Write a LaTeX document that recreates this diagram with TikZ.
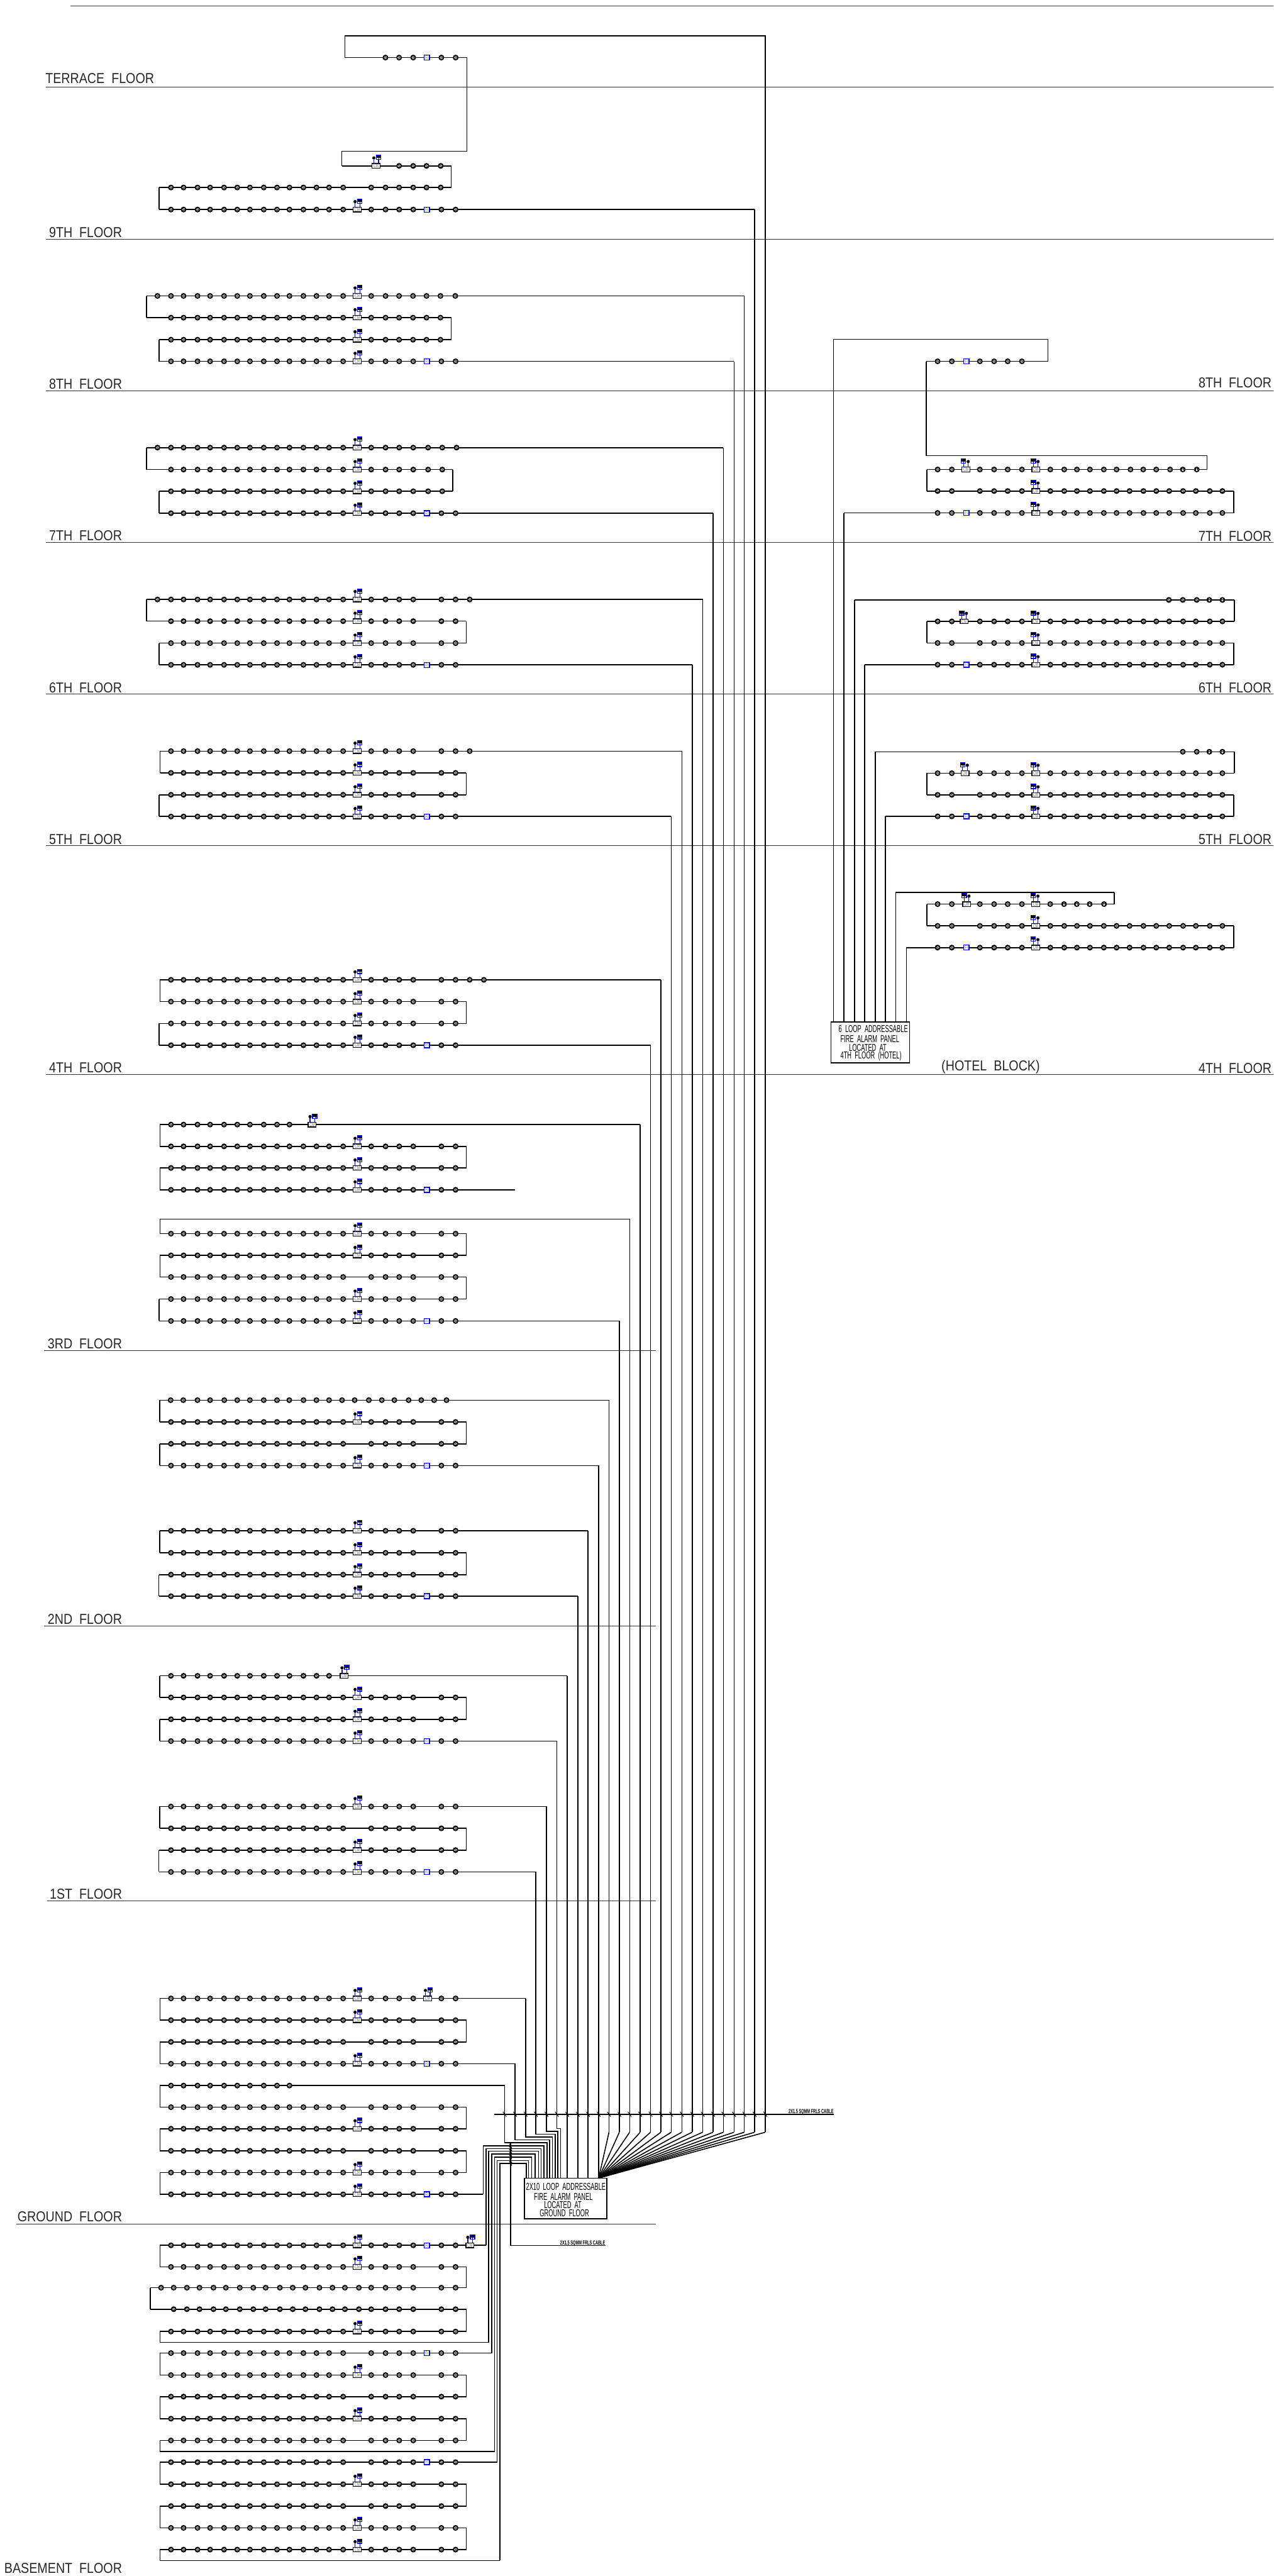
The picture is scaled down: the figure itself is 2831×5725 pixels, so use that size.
\documentclass[tikz,border=0pt]{standalone}
\usepackage{fontspec}
\setmainfont{Liberation Sans}
\newfontfamily\cadL[FakeStretch=0.86,WordSpace=2]{Liberation Sans}
\newfontfamily\cadP[FakeStretch=0.58,WordSpace=2]{Liberation Sans}
\newfontfamily\cadS[FakeStretch=0.6]{Liberation Sans}
\tikzset{
  wire/.style={line width=.55pt,black},
  flr/.style={line width=.28pt,black!80},
  feed/.style={line width=.4pt,blue},
  tickm/.style={line width=.35pt,black},
  smk/.style={circle,draw=black,fill=white,line width=.65pt,minimum size=2.5pt,inner sep=0pt,outer sep=0pt,font=\fontsize{2.4}{2.4}\selectfont\bfseries},
  cmbox/.style={rectangle,draw=black,fill=white,line width=.45pt,minimum width=4.4pt,minimum height=2.6pt,inner sep=0pt,outer sep=0pt,text=black!55,font=\cadS\fontsize{3}{3}\selectfont},
  fibox/.style={rectangle,draw=blue,fill=white,line width=.45pt,minimum width=3pt,minimum height=2.8pt,inner sep=0pt,outer sep=0pt,text=black!55,font=\cadS\fontsize{3}{3}\selectfont},
  bdot/.style={circle,fill=black,minimum size=1.8pt,inner sep=0pt,outer sep=0pt},
  icobox/.style={rectangle,draw=blue,fill=white,line width=.45pt,minimum width=2.5pt,minimum height=2.4pt,inner sep=0pt,outer sep=0pt,
    path picture={\fill[black] (path picture bounding box.north west) rectangle ([yshift=.9pt]path picture bounding box.south east);
      \fill[black] ([yshift=-.0pt]path picture bounding box.south) rectangle ([xshift=.2pt,yshift=.9pt]path picture bounding box.south);}},
  flab/.style={font=\cadL\fontsize{8}{8}\selectfont,inner sep=0pt,anchor=base east,black!85},
  ptxt/.style={font=\cadP\fontsize{5.6}{5.6}\selectfont,inner sep=0pt},
  cab/.style={font=\cadS\bfseries\fontsize{3.3}{3.3}\selectfont,inner sep=0pt,anchor=base east},
  panelbox/.style={rectangle,draw=black,fill=white,line width=.55pt,inner sep=0pt,outer sep=0pt},
}
\def\LL{380,408,439,467,498,527.3,555.5,586.3,615.7,643.4,674.4,703.5,731.4,762.7}
\def\LX{380,408,439,467,498,527.3,555.5,586.3,615.7,643.4}
\def\LT{380,408,439,467,498,527.3,555.5,586.3,615.7,643.4,674.4,703.5,731.4}
\def\RF{825,857,887.3,918.5}
\def\RT{981,1012.6}
\def\LB{386,415.4,443.5,474.5,502,533,563,590.5,622,650.7,678.9,710,739,766.7,797.7}
\def\HL{2084,2115.6}
\def\HM{2178,2209.6,2239.8,2271.4}
\def\HR{2334.5,2365.4,2393.7,2422.6,2453.5,2481.8,2510.7,2541.6,2570,2598.8,2629.7,2658,2689,2717}
\newcommand\wirerow[4]{%
  \coordinate (#1-L) at (#3,#2);
  \coordinate (#1-R) at (#4,#2);
  \draw[wire] (#1-L) -- (#1-R);}
\newcommand\srow[5]{%
  \wirerow{#1}{#2}{#3}{#4}
  \edef\tmplist{#5}%
  \foreach \x [count=\i] in \tmplist {\node[smk] (#1-s\i) at (\x,#2) {S};}}
\newcommand\HD[3]{\node[smk] (#1-h#2) at (#3,0 |- #1-L) {H};}
\newcommand\FIb[2]{\node[fibox] (#1-fi) at (#2,0 |- #1-L) {FI};}
% CM module with dot left and box right
\newcommand\CMi[3]{%
  \node[cmbox] (#1-cm#2) at (#3,0 |- #1-L) {CM};
  \node[bdot] (#1-d#2) at ([shift={(-4.7,-17.7)}]#1-cm#2.center) {};
  \node[icobox] (#1-b#2) at ([shift={(5.8,-18.7)}]#1-cm#2.center) {};
  \draw[feed] (#1-d#2) -- (#1-d#2 |- #1-cm#2.north);
  \draw[feed] (#1-b#2) -- (#1-b#2 |- #1-cm#2.north);}
% mirrored version used in the hotel block
\newcommand\CMr[3]{%
  \node[cmbox] (#1-cm#2) at (#3,0 |- #1-L) {CM};
  \node[bdot] (#1-d#2) at ([shift={(5,-17.7)}]#1-cm#2.center) {};
  \node[icobox] (#1-b#2) at ([shift={(-5.5,-18.7)}]#1-cm#2.center) {};
  \draw[feed] (#1-d#2) -- (#1-d#2 |- #1-cm#2.north);
  \draw[feed] (#1-b#2) -- (#1-b#2 |- #1-cm#2.north);}
\begin{document}
\begin{tikzpicture}[x=0.25pt,y=-0.25pt]
\useasboundingbox (0,0) rectangle (2831,5725);
% ---------- floor lines
\foreach \n/\xa/\xb/\y in {top/157/2831/13.7,ter/102/2831/193.7,f9/102/2831/531,f8/102/2831/867.9,f7/102/2831/1205.6,f6/102/2831/1542.6,f5/102/2831/1879.7,f4/102/2831/2387.9,f3/98/1457.5/3002,f2/98/1457.5/3613.3,f1/105/1457.5/4225,fg/37/1457.5/4942.3}{
  \coordinate (\n-a) at (\xa,\y);
  \coordinate (\n-b) at (\xb,\y);
  \draw[flr] (\n-a) -- (\n-b);
}
\foreach \n/\x/\y/\t in {lt/343.4/185/TERRACE FLOOR,l9/272/527/9TH FLOOR,l8/272/864/8TH FLOOR,l7/272/1202/7TH FLOOR,l6/272/1539/6TH FLOOR,l5/272/1876/5TH FLOOR,l4/272/2384/4TH FLOOR,l3/272/2998/3RD FLOOR,l2/272/3609/2ND FLOOR,l1/272/4221/1ST FLOOR,lg/272/4938/GROUND FLOOR,lb/272/5719/BASEMENT FLOOR,r8/2827/862/8TH FLOOR,r7/2827/1202.5/7TH FLOOR,r6/2827/1539/6TH FLOOR,r5/2827/1876/5TH FLOOR,r4/2827/2385/4TH FLOOR}{
  \node[flab] (\n) at (\x,\y) {\t};
}
\node[flab,anchor=base] (hb) at (2202,2380) {(HOTEL BLOCK)};
% ---------- panels
\node[panelbox,minimum width=45.9pt,minimum height=22.5pt] (G) at (1257.15,4885.7) {};
\node[ptxt] (G1) at (1257.8,4859.7) {2X10 LOOP ADDRESSABLE};
\node[ptxt] (G2) at (1252,4881.7) {FIRE ALARM PANEL};
\node[ptxt] (G3) at (1251,4900) {LOCATED AT};
\node[ptxt] (G4) at (1254.6,4918) {GROUND FLOOR};
\node[panelbox,minimum width=43.75pt,minimum height=22.6pt] (HP) at (1934.5,2316.85) {};
\node[ptxt] (H1t) at (1941,2286.7) {6 LOOP ADDRESSABLE};
\node[ptxt] (H2t) at (1933.5,2309.3) {FIRE ALARM PANEL};
\node[ptxt] (H3t) at (1928.8,2328.3) {LOCATED AT};
\node[ptxt] (H4t) at (1936,2346.7) {4TH FLOOR (HOTEL)};
% ---------- riser anchors
\coordinate (fan) at (1330.7,4840.7);
\foreach \k/\x in {10/1353.6,11/1376.6,12/1399.5,13/1423,14/1446,15/1469,16/1492,17/1515.5,18/1538.5,19/1562,20/1585,21/1608,22/1631.5,23/1654.4,24/1677.4,25/1701}{
  \coordinate (R\k) at (\x,4738.7);
  \draw[wire] (R\k) -- (fan);
}
\foreach \k/\x in {0/1121.7,1/1144.7,2/1168.2,3/1191.2,4/1214.7,5/1237.7,6/1260.6,7/1284.2,8/1307,9/1330.7,10/1353.6,11/1376.6,12/1399.5,13/1423,14/1446,15/1469,16/1492,17/1515.5,18/1538.5,19/1562,20/1585,21/1608,22/1631.5,23/1654.4,24/1677.4,25/1701}{
  \coordinate (T\k) at (\x,4698.7);
}
% ---------- terrace / 9th
\coordinate (tt-L) at (766.8,80);
\coordinate (tt-R) at (1701,80);
\srow{t1}{128}{766.8}{1038}{856.7,887,918.4,981,1012.8}
\FIb{t1}{948.5}
\srow{n0}{368.7}{759.7}{1003}{887,918.4,948,979.6}
\CMi{n0}{a}{835.7}
\srow{n1}{416.7}{353.6}{1003}{\LL,825,857,887,918.4,948,979.6}
\srow{n2}{465.7}{353.6}{1677.4}{\LL,\RF,\RT}
% ---------- 8th
\srow{e1}{657.7}{326}{1654.4}{350,\LL,825,857,887,918,948,979,1012}
\srow{e2}{706}{326}{1003}{\LL,825,857,887,918,948,979}
\srow{e3}{755}{353.6}{1003}{\LL,825,857,887,918,948,979}
\srow{e4}{803}{353.6}{1631.5}{\LL,\RF,\RT}
% ---------- 7th
\srow{s1}{994.8}{326}{1608}{350,\LL,\RF,951.5,983,1014.8}
\srow{s2}{1043.6}{326}{1006.6}{\LL,\RF,951.5,983}
\srow{s3}{1091.8}{353.6}{1006.6}{\LL,\RF,951.5,983}
\srow{s4}{1140.6}{353.6}{1585}{\LL,\RF,\RT}
% ---------- 6th
\srow{x1}{1332.3}{326}{1562}{350,\LL,\RF,\RT,1044}
\srow{x2}{1380.5}{326}{1036.2}{\LL,\RF,\RT}
\srow{x3}{1429.3}{353.6}{1036.2}{\LL,\RF,\RT}
\srow{x4}{1477.6}{353.6}{1538.5}{\LL,\RF,\RT}
% ---------- 5th
\srow{f1a}{1669.3}{356}{1515.5}{\LL,\RF,\RT,1044}
\srow{f2a}{1717.7}{356}{1036.2}{\LL,\RF,\RT}
\srow{f3a}{1766.3}{353.6}{1036.2}{\LL,\RF,\RT}
\srow{f4a}{1814.6}{353.6}{1492}{\LL,\RF,\RT}
% ---------- 4th
\srow{g1}{2177.6}{355.7}{1469}{\LL,\RF,\RT,1044,1075.5}
\srow{g2}{2226}{355.7}{1036.6}{\LL,\RF,\RT}
\srow{g3}{2274.5}{353.4}{1036.6}{\LL,\RF,\RT}
\srow{g4}{2323}{353.4}{1446}{\LL,\RF,\RT}
% ---------- below 4th
\srow{h1}{2499.3}{355.7}{1423}{\LX}
\CMi{h1}{a}{693.8}
\srow{h2}{2547.7}{355.7}{1036.6}{\LL,\RF,\RT}
\srow{h3}{2595.7}{355.7}{1036.6}{\LL,\RF,\RT}
\srow{h4}{2644.3}{355.7}{1145}{\LL,\RF,\RT}
\wirerow{i0}{2709.3}{355.7}{1399.5}
\srow{i1}{2741.7}{355.7}{1036.6}{\LL,\RF,\RT}
\srow{i2}{2790}{355.7}{1036.6}{\LL,\RF,\RT}
\srow{i3}{2838}{355.7}{1036.6}{\LL,\RF,\RT}
\srow{i4}{2887}{353.6}{1036.6}{\LL,\RF,\RT}
\srow{i5}{2935.7}{353.6}{1376.6}{\LL,\RF,\RT}
% ---------- 3rd-2nd
\srow{j1}{3111.7}{354.7}{1353.6}{379.3,407.3,438.9,467,498.5,527.3,555.4,586.2,615.7,643,674.6,703.4,731.4,760.2,788.3,819.8,848.6,876.6,908.2,936.3,965,992.4}
\srow{j2}{3160.2}{354.7}{1036.6}{\LL,\RF,\RT}
\srow{j3}{3208.7}{354.7}{1036.6}{\LL,\RF,\RT}
\srow{j4}{3257.1}{354.7}{1330.7}{\LL,\RF,\RT}
\srow{m1}{3402}{354.7}{1307}{\LL,\RF,\RT}
\srow{m2}{3451}{354.7}{1036.6}{\LL,\RF,\RT}
\srow{m3}{3499.5}{353}{1036.6}{\LL,\RF,\RT}
\srow{m4}{3547.4}{353}{1284.2}{\LL,\RF,\RT}
% ---------- 2nd-1st
\srow{p1}{3724.4}{354.7}{1260.6}{\LT}
\CMi{p1}{a}{765}
\srow{p2}{3772.4}{354.7}{1036.6}{\LL,\RF,\RT}
\srow{p3}{3821}{354.7}{1036.6}{\LL,\RF,\RT}
\srow{p4}{3869.4}{354.7}{1237.7}{\LL,\RF,\RT}
\srow{q1}{4014.8}{354.7}{1214.7}{\LL,\RF,\RT}
\srow{q2}{4063.3}{354.7}{1036.6}{\LL,\RF,\RT}
\srow{q3}{4111.7}{353}{1036.6}{\LL,\RF,\RT}
\srow{q4}{4160.2}{353}{1191.2}{\LL,\RF,\RT}
% ---------- ground
\srow{a1}{4441.3}{355.7}{1168.2}{\LL,\RF,\RT}
\CMi{a1}{b}{950.3}
\srow{a2}{4489.7}{355.7}{1036.5}{\LL,\RF,\RT}
\srow{a3}{4538}{355.7}{1036.5}{\LL,\RF,\RT}
\srow{a4}{4586.4}{355.7}{1144.7}{\LL,\RF,\RT}
\srow{a5}{4635}{355.7}{1121.7}{\LX}
\srow{a6}{4683}{355.7}{1036.5}{\LL,\RF,\RT}
\srow{a7}{4731}{355.7}{1036.5}{\LL,\RF,\RT}
\srow{a8}{4780}{355.7}{1036.5}{\LL,\RF,\RT}
\srow{a9}{4828.3}{355.7}{1036.5}{\LL,\RF,\RT}
\srow{a10}{4876.7}{355.7}{1074}{\LL,\RF,\RT}
% ---------- basement
\srow{b1}{4990}{355.7}{1080.4}{\LL,\RF,\RT}
\CMi{b1}{b}{1044.5}
\srow{b2}{5038}{355.7}{1036.5}{\LL,\RF,\RT}
\srow{b3}{5084.2}{334.4}{1036.5}{358,\LB,\RF,\RT}
\srow{b4}{5132}{334.4}{1036.5}{\LB,\RF,\RT}
\srow{b5}{5181.6}{355.7}{1036.5}{\LL,\RF,\RT}
\wirerow{b6}{5205.8}{355.7}{1086}
\srow{b7}{5229.5}{355.7}{1093}{\LL,\RF,\RT}
\srow{b8}{5278.4}{355.7}{1036.5}{\LL,\RF,\RT}
\srow{b9}{5326.3}{355.7}{1036.5}{\LL,\RF,\RT}
\srow{b10}{5375.3}{355.7}{1036.5}{\LL,\RF,\RT}
\srow{b11}{5423.7}{355.7}{1036.5}{\LL,\RF,\RT}
\wirerow{b12}{5448.4}{355.7}{1099.3}
\srow{b13}{5472}{355.7}{1105}{\LL,\RF,\RT}
\srow{b14}{5521}{355.7}{1036.5}{\LL,\RF,\RT}
\srow{b15}{5569.5}{355.7}{1036.5}{\LL,\RF,\RT}
\srow{b16}{5618}{355.7}{1036.5}{\LL,\RF,\RT}
\srow{b17}{5666.3}{355.7}{1036.5}{\LL,\RF,\RT}
\wirerow{b18}{5690.5}{355.7}{1110.8}
% ---------- standard modules
\foreach \r in {n2,e1,e2,e3,e4,s1,s2,s3,s4,x1,x2,x3,x4,f1a,f2a,f3a,f4a,g1,g2,g3,g4,h2,h3,h4,i1,i2,i4,i5,j2,j4,m1,m2,m3,m4,p2,p3,p4,q1,q3,q4,a1,a2,a4,a7,a9,a10,b1,b2,b5,b8,b10,b14,b16,b17}{
  \CMi{\r}{a}{794}
}
\foreach \r in {n2,e4,s4,x4,f4a,g4,h4,i5,j4,m4,p4,q4,a4,a10,b1,b7,b13}{
  \FIb{\r}{948.5}
}
% ---------- loop returns
\draw[wire] (t1-L) -- (tt-L) -- (tt-R) -- (R25);
\coordinate (u1) at (1038,336);
\coordinate (u2) at (759.7,336);
\draw[wire] (t1-R) -- (u1) -- (u2) -- (n0-L);
\foreach \a/\b in {n0-R/n1-R,n1-L/n2-L,
  e1-L/e2-L,e2-R/e3-R,e3-L/e4-L,
  s1-L/s2-L,s2-R/s3-R,s3-L/s4-L,
  x1-L/x2-L,x2-R/x3-R,x3-L/x4-L,
  f1a-L/f2a-L,f2a-R/f3a-R,f3a-L/f4a-L,
  g1-L/g2-L,g2-R/g3-R,g3-L/g4-L,
  h1-L/h2-L,h2-R/h3-R,h3-L/h4-L,
  i0-L/i1-L,i1-R/i2-R,i2-L/i3-L,i3-R/i4-R,i4-L/i5-L,
  j1-L/j2-L,j2-R/j3-R,j3-L/j4-L,
  m1-L/m2-L,m2-R/m3-R,m3-L/m4-L,
  p1-L/p2-L,p2-R/p3-R,p3-L/p4-L,
  q1-L/q2-L,q2-R/q3-R,q3-L/q4-L,
  a1-L/a2-L,a2-R/a3-R,a3-L/a4-L,
  a5-L/a6-L,a6-R/a7-R,a7-L/a8-L,a8-R/a9-R,a9-L/a10-L,
  b1-L/b2-L,b2-R/b3-R,b3-L/b4-L,b4-R/b5-R,b5-L/b6-L,
  b7-L/b8-L,b8-R/b9-R,b9-L/b10-L,b10-R/b11-R,b11-L/b12-L,
  b13-L/b14-L,b14-R/b15-R,b15-L/b16-L,b16-R/b17-R,b17-L/b18-L}{
  \draw[wire] (\a) -- (\b);
}
% risers into the fan
\foreach \r/\k in {i5/11,i0/12,h1/13,g4/14,g1/15,f4a/16,f1a/17,x4/18,x1/19,s4/20,s1/21,e4/22,e1/23,n2/24,j1/10}{
  \draw[wire] (\r-R) -- (R\k);
}
% straight risers
\foreach \r in {p1,m4,m1,j4}{
  \draw[wire] (\r-R) -- (\r-R |- G.north);
}
% elbowed risers
\foreach \r/\x/\y in {a5/1215.8/4762,a4/1221.6/4755.7,a1/1228/4749.7,q4/1234.2/4743.3,q1/1240/4737,p4/1246.3/4730.7,
  a10/1209/4769.3,b1/1202.6/4775,b6/1196.9/4781,b7/1189.4/4787.3,b12/1182/4793.7,b13/1175/4801.7,b18/1170/4808}{
  \coordinate (\r-e) at (\x,\y);
  \draw[wire] (\r-R) |- (\r-e) -- (\r-e |- G.north);
}
% ---------- cable markers
\coordinate (C1) at (1098,4698.7);
\coordinate (C2) at (1853.6,4698.7);
\draw[line width=.75pt] (C1) -- (C2);
\foreach \k in {0,...,25}{
  \draw[tickm] ([shift={(-3.7,-5.3)}]T\k) -- ([shift={(3.7,5.3)}]T\k);
}
\node[cab] (cab1) at (1853.6,4697.5) {2X1.5 SQMM FRLS CABLE};
\coordinate (L0) at (1134.9,4763);
\coordinate (L1) at (1134.9,4990.7);
\coordinate (L2) at (1346,4990.7);
\draw[wire] (L0) -- (L1) -- (L2);
\foreach \n/\y in {1/4769.3,2/4775,3/4781,4/4787.3,5/4793.7,6/4801.7,7/4808}{
  \coordinate (LT\n) at (1134.9,\y);
  \draw[tickm] ([shift={(-2.8,-5)}]LT\n) -- ([shift={(2.8,5)}]LT\n);
}
\node[cab] (cab2) at (1346,4989.5) {2X1.5 SQMM FRLS CABLE};
% ---------- hotel block
\foreach \n/\x in {0/1852.4,1/1875.8,2/1899.3,3/1922,4/1945.5,5/1968.3,6/1991,7/2014.6}{
  \coordinate (H\n) at (\x,2271.7);
}
\coordinate (v1) at (2329.3,754);
\coordinate (v2) at (1852.4,754);
\coordinate (v3) at (2058.4,1012.8);
\coordinate (v4) at (2683,1012.8);
\srow{r8a}{803}{2058.4}{2329.3}{\HL,\HM}
\FIb{r8a}{2147.8}
\srow{r8b}{1043.4}{2060.4}{2683}{\HL,\HM,2334.5,2365.4,2393.7,2422.6,2453.5,2481.8,2512.7,2541,2570,2600.8}
\HD{r8b}{a}{2629}
\HD{r8b}{b}{2660}
\CMr{r8b}{a}{2147}
\CMr{r8b}{b}{2302.3}
\srow{r8c}{1091.3}{2060.4}{2742}{\HL,\HM,\HR}
\CMr{r8c}{b}{2302.3}
\srow{r8d}{1140}{1875.8}{2742}{\HL,\HM,\HR}
\FIb{r8d}{2147.8}
\CMr{r8d}{b}{2302.3}
\draw[wire] (r8a-R) -- (v1) -- (v2) -- (H0);
\draw[wire] (r8a-L) -- (v3) -- (v4) -- (r8b-R);
\draw[wire] (r8b-L) -- (r8c-L);
\draw[wire] (r8c-R) -- (r8d-R);
\draw[wire] (r8d-L) -- (H1);
% 6th
\srow{r6t}{1333.3}{1899.3}{2743.5}{2598,2629,2660}
\HD{r6t}{a}{2688}
\HD{r6t}{b}{2717}
\srow{r6a}{1381}{2060.4}{2743.5}{\HL,\HM,\HR}
\CMr{r6a}{a}{2143}
\CMr{r6a}{b}{2302.3}
\srow{r6b}{1429}{2060.4}{2742}{\HL,\HM,\HR}
\CMr{r6b}{b}{2302.3}
\srow{r6c}{1477.3}{1922}{2742}{\HL,\HM,\HR}
\FIb{r6c}{2147.8}
\CMr{r6c}{b}{2302.3}
\draw[wire] (r6t-L) -- (H2);
\draw[wire] (r6t-R) -- (r6a-R);
\draw[wire] (r6a-L) -- (r6b-L);
\draw[wire] (r6b-R) -- (r6c-R);
\draw[wire] (r6c-L) -- (H3);
% 5th
\srow{r5t}{1670.7}{1945.5}{2743.5}{2629,2660}
\HD{r5t}{a}{2688}
\HD{r5t}{b}{2717}
\srow{r5a}{1718.4}{2060.4}{2743.5}{\HL,\HM,\HR}
\CMr{r5a}{a}{2145}
\CMr{r5a}{b}{2302.3}
\srow{r5b}{1766.5}{2060.4}{2742}{\HL,\HM,\HR}
\CMr{r5b}{b}{2302.3}
\srow{r5c}{1814.3}{1968.3}{2742}{\HL,\HM,\HR}
\FIb{r5c}{2147.8}
\CMr{r5c}{b}{2302.3}
\draw[wire] (r5t-L) -- (H4);
\draw[wire] (r5t-R) -- (r5a-R);
\draw[wire] (r5a-L) -- (r5b-L);
\draw[wire] (r5b-R) -- (r5c-R);
\draw[wire] (r5c-L) -- (H5);
% 4th
\wirerow{r4t}{1983.3}{1991}{2476.4}
\srow{r4a}{2009.3}{2060}{2476.4}{\HL,\HM,2334.3}
\HD{r4a}{a}{2365}
\HD{r4a}{b}{2393.3}
\HD{r4a}{c}{2422}
\HD{r4a}{d}{2454}
\CMr{r4a}{a}{2148.6}
\CMr{r4a}{b}{2302}
\srow{r4b}{2057.7}{2060}{2742.5}{\HL,\HM,\HR}
\CMr{r4b}{b}{2302}
\srow{r4c}{2106}{2014.6}{2742.5}{\HL,\HM,\HR}
\FIb{r4c}{2147.8}
\CMr{r4c}{b}{2302}
\draw[wire] (r4t-L) -- (H6);
\draw[wire] (r4t-R) -- (r4a-R);
\draw[wire] (r4a-L) -- (r4b-L);
\draw[wire] (r4b-R) -- (r4c-R);
\draw[wire] (r4c-L) -- (H7);
\end{tikzpicture}
\end{document}
